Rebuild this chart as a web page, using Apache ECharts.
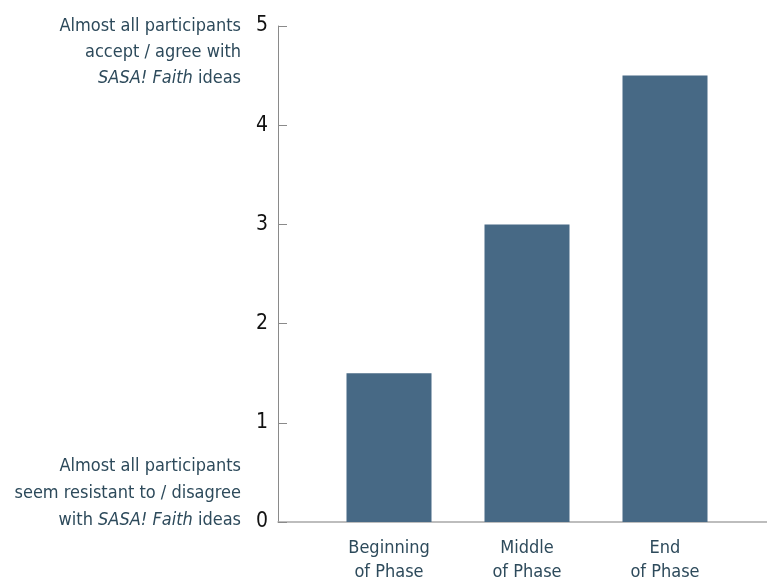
<!DOCTYPE html>
<html>
<head>
<meta charset="utf-8">
<script src="https://cdn.jsdelivr.net/npm/echarts@6/dist/echarts.min.js"></script>
<style>
  html, body { margin: 0; padding: 0; background: #fff; }
  #box01 { width: 767px; height: 581px; }
</style>
</head>
<body>
<div id="box01"></div>
<script>
// data
var categories = ['Beginning\nof Phase', 'Middle\nof Phase', 'End\nof Phase'];
var values = [1.5, 3.0, 4.5];
var yTicks = [0, 1, 2, 3, 4, 5];

var fontFam = '"Liberation Sans Narrow", "DejaVu Sans Condensed", sans-serif';
var textColor = '#2d4a5b';

var myChart = echarts.init(document.getElementById('box01'));

var option = {
    animation: false,
    grid: [
        {left: 278, right: 0, top: 26, bottom: 59, outerBoundsMode: 'none', containLabel: false},
        {left: 320, width: 414, top: 26, bottom: 59, outerBoundsMode: 'none', containLabel: false}
    ],
    xAxis: [
        {
            gridIndex: 0, type: 'value', min: 0, max: 1,
            axisLine: {show: true, lineStyle: {color: '#a8a8a8', width: 1.5}},
            axisTick: {show: false}, axisLabel: {show: false}, splitLine: {show: false}
        },
        {
            gridIndex: 1, type: 'category', data: categories,
            axisLine: {show: false}, axisTick: {show: false},
            axisLabel: {color: textColor, fontSize: 18, lineHeight: 24, margin: 14, fontFamily: fontFam}
        }
    ],
    yAxis: [
        {
            gridIndex: 0, type: 'value', min: yTicks[0], max: yTicks[yTicks.length - 1], interval: 1,
            axisLine: {show: true, lineStyle: {color: '#8a8a8a'}},
            axisTick: {show: true, inside: true, length: 9, lineStyle: {color: '#8a8a8a'}},
            axisLabel: {color: '#111', fontSize: 21, margin: 10, fontFamily: fontFam},
            splitLine: {show: false}
        },
        {
            gridIndex: 1, type: 'value', min: 0, max: 5, show: false, splitLine: {show: false}
        }
    ],
    series: [
        {
            type: 'bar', xAxisIndex: 1, yAxisIndex: 1,
            data: values, barWidth: 85,
            itemStyle: {color: '#476985'}
        }
    ],
    graphic: [
        {
            type: 'text', x: 241, y: 13,
            style: {
                text: 'Almost all participants\naccept / agree with\n{i|SASA! Faith} ideas',
                align: 'right', verticalAlign: 'top',
                fill: textColor, fontSize: 18, lineHeight: 26, fontFamily: fontFam,
                rich: {i: {fontStyle: 'italic', fill: textColor, fontSize: 18, fontFamily: fontFam}}
            }
        },
        {
            type: 'text', x: 241, y: 453,
            style: {
                text: 'Almost all participants\nseem resistant to / disagree\nwith {i|SASA! Faith} ideas',
                align: 'right', verticalAlign: 'top',
                fill: textColor, fontSize: 18, lineHeight: 27, fontFamily: fontFam,
                rich: {i: {fontStyle: 'italic', fill: textColor, fontSize: 18, fontFamily: fontFam}}
            }
        }
    ]
};
myChart.setOption(option);
</script>
</body>
</html>
